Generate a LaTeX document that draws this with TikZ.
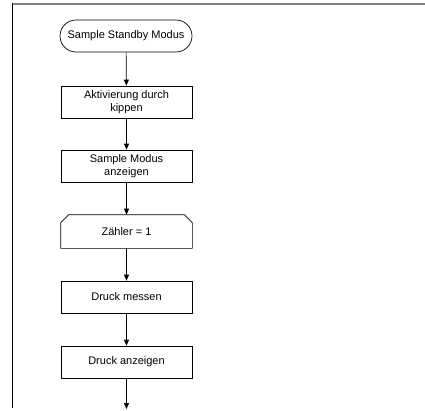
\documentclass[tikz,border=0pt]{standalone}
\usepackage{fontspec}
\setmainfont{Liberation Sans}
\usetikzlibrary{arrows.meta,shapes.misc}
\begin{document}
\begin{tikzpicture}[x=1pt,y=-1pt,
  font=\fontsize{11}{12.7}\selectfont,
  stepbox/.style={draw, line width=0.7pt, minimum width=131pt, minimum height=32pt,
    align=center, inner sep=0pt},
  termbox/.style={draw, rounded rectangle, line width=0.7pt, minimum width=132pt,
    minimum height=32pt, inner sep=0pt},
  flow/.style={line width=0.7pt, -{Triangle[length=6pt,width=5pt]}}]
\useasboundingbox (0,0) rectangle (425,410);

% page frame
\draw[gray, line width=1.6pt] (12,4) -- (425,4);
\draw[line width=0.8pt] (12.5,3.3) -- (12.5,408);

% flow steps
\node[termbox] (start) at (126,36) {Sample Standby Modus};
\node[stepbox] (act)  at (126.5,102) {Aktivierung durch\\kippen};
\node[stepbox] (show) at (126.5,166) {Sample Modus\\anzeigen};
\node[stepbox, draw=none, minimum height=33pt] (cnt) at (126.5,231.5) {Zähler = 1};
\draw[line width=0.7pt] (cnt.south west) -- ([yshift=-8pt]cnt.north west)
  -- ([xshift=8pt]cnt.north west) -- ([xshift=-8pt]cnt.north east)
  -- ([yshift=-8pt]cnt.north east) -- (cnt.south east) -- cycle;
\node[stepbox] (meas) at (126.5,297) {Druck messen};
\node[stepbox] (disp) at (126.5,362) {Druck anzeigen};
\coordinate (next) at (126.5,409);

% connectors
\draw[flow] (start) -- (act);
\draw[flow] (act) -- (show);
\draw[flow] (show) -- (cnt);
\draw[flow] (cnt) -- (meas);
\draw[flow] (meas) -- (disp);
\draw[flow] (disp) -- (next);
\end{tikzpicture}
\end{document}
